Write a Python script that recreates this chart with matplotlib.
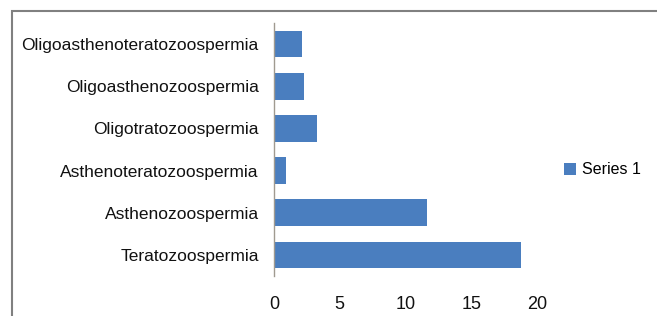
import matplotlib
matplotlib.use("Agg")
import matplotlib.pyplot as plt
from matplotlib.patches import Rectangle

categories = ["Oligoasthenoteratozoospermia", "Oligoasthenozoospermia", "Oligotratozoospermia",
              "Asthenoteratozoospermia", "Asthenozoospermia", "Teratozoospermia"]
values = [2.1, 2.3, 3.3, 0.9, 11.6, 18.8]
xticks = [0, 5, 10, 15, 20]
series_name = "Series 1"

plt.rcParams['font.family'] = ['Liberation Sans', 'DejaVu Sans']
W, H = 657, 316
fig = plt.figure(figsize=(W/100, H/100), dpi=100)
ax = fig.add_axes([274/W, 1-276/H, (537-274)/W, (276-23)/H])

bar_color = "#4a7ebf"
ypos = list(range(len(categories)))
ax.barh(ypos, values, height=0.63, color=bar_color, label=series_name)
ax.set_ylim(len(categories)-0.5, -0.5)
ax.set_xlim(0, 20)
ax.set_yticks(ypos)
ax.set_yticklabels(categories, fontsize=12.5, color="#111111")
ax.set_xticks(xticks)
ax.set_xticklabels([str(t) for t in xticks], fontsize=13, color="#111111")
ax.tick_params(axis='x', length=0, pad=14.5)
ax.tick_params(axis='y', length=0, pad=11)
for s in ['top', 'right', 'bottom']:
    ax.spines[s].set_visible(False)
ax.spines['left'].set_color("#a09a90")
ax.spines['left'].set_linewidth(1.0)

leg = ax.legend(loc='center left', bbox_to_anchor=(564/W, 1-170/H), bbox_transform=fig.transFigure,
                frameon=False, fontsize=11.5, handlelength=0.75, handleheight=0.75, handletextpad=0.35,
                borderaxespad=0, borderpad=0)

fig.patches.append(Rectangle((12/W, -0.1), 1.2, 1-11/H+0.1, transform=fig.transFigure,
                             fill=False, edgecolor="#808080", linewidth=1.5))
fig.savefig("out.png", dpi=100)
